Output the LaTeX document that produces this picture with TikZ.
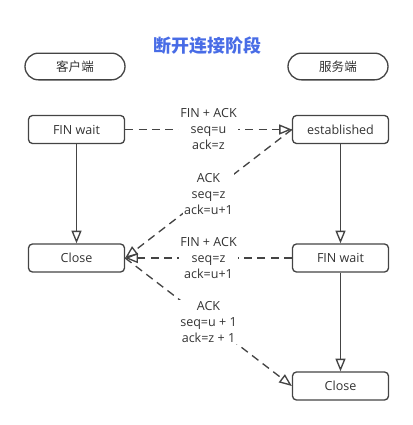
\documentclass[tikz,border=0pt]{standalone}
\usepackage{fontspec}
\setmainfont{Open Sans}
\newfontfamily\cjk{Noto Sans CJK SC}
\usetikzlibrary{arrows.meta}
\definecolor{ln}{RGB}{68,68,68}
\definecolor{tx}{RGB}{51,51,51}
\definecolor{ttl}{RGB}{72,108,230}
\begin{document}
\begin{tikzpicture}[x=0.75pt,y=-0.75pt,
  box/.style={draw=ln,line width=1pt,rounded corners=3pt,minimum width=72pt,minimum height=21pt,inner sep=0pt,font=\fontsize{9.4}{11}\selectfont,text=tx},
  role/.style={draw=ln,line width=1pt,rounded corners=10pt,minimum width=75pt,minimum height=20pt,inner sep=0pt,font=\cjk\fontsize{9.4}{11}\selectfont,text=tx},
  solidarr/.style={draw=ln,line width=1pt,-{Triangle[open,length=9.5pt,width=7.5pt]}},
  dasharr/.style={draw=ln,line width=1pt,dash pattern=on 6pt off 4pt,-{Triangle[open,length=9.5pt,width=7.5pt]}},
  lbl/.style={fill=white,align=center,inner sep=1pt,font=\fontsize{9.4}{12}\selectfont,text=tx}]
\useasboundingbox (0,0) rectangle (413,425);
\node[font=\cjk\bfseries\fontsize{13.5}{15}\selectfont,text=ttl] (title) at (207,46) {断开连接阶段};
\node[role] (client) at (75,66.5) {客户端};
\node[role] (server) at (338,66.5) {服务端};
\node[box] (finL) at (76.5,129.5) {FIN wait};
\node[box] (closeL) at (76.5,258) {Close};
\node[box] (est) at (340.5,129.5) {established};
\node[box] (finR) at (340.5,258) {FIN wait};
\node[box] (closeR) at (340.5,386) {Close};
\draw[solidarr] (finL) -- (closeL);
\draw[solidarr] (est) -- (finR);
\draw[solidarr] (finR) -- (closeR);
\draw[dasharr] (finL.east) -- node[lbl] (l1) {FIN + ACK\\seq=u\\ack=z} (est.west);
\draw[dasharr] (est.west) -- node[lbl] (l2) {ACK\\seq=z\\ack=u+1} (closeL.east);
\draw[dasharr] (finR.west) -- node[lbl] (l3) {FIN + ACK\\seq=z\\ack=u+1} (closeL.east);
\draw[dasharr] (closeL.east) -- node[lbl] (l4) {ACK\\seq=u + 1\\ack=z + 1} (closeR.west);
\end{tikzpicture}
\end{document}
